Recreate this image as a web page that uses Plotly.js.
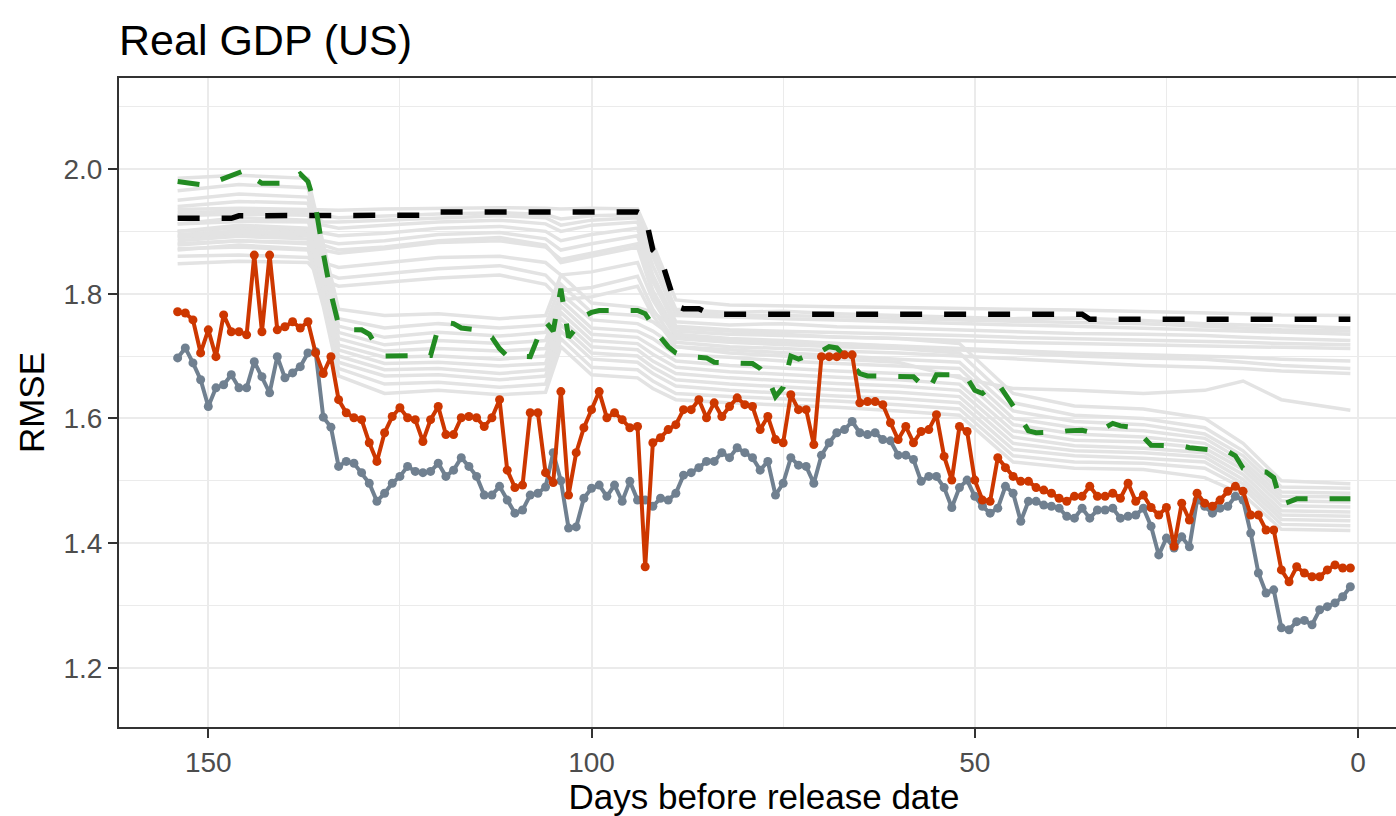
<!DOCTYPE html>
<html>
<head>
<meta charset="utf-8">
<script src="https://cdn.plot.ly/plotly-3.0.1.min.js"></script>
<style>
html,body{margin:0;padding:0;overflow:hidden;background:#fff;}
#chart{width:1420px;height:816px;}
</style>
</head>
<body>
<div id="chart"></div>
<script>
// Days before release date (x values of the two point series)
const days = [154,153,152,151,150,149,148,147,146,145,
144,143,142,141,140,139,138,137,136,135,
134,133,132,131,130,129,128,127,126,125,
124,123,122,121,120,119,118,117,116,115,
114,113,112,111,110,109,108,107,106,105,
104,103,102,101,100,99,98,97,96,95,
94,93,92,91,90,89,88,87,86,85,
84,83,82,81,80,79,78,77,76,75,
74,73,72,71,70,69,68,67,66,65,
64,63,62,61,60,59,58,57,56,55,
54,53,52,51,50,49,48,47,46,45,
44,43,42,41,40,39,38,37,36,35,
34,33,32,31,30,29,28,27,26,25,
24,23,22,21,20,19,18,17,16,15,
14,13,12,11,10,9,8,7,6,5,
4,3,2,1];

// Orange-red series (RMSE)
const redRmse = [1.771,1.769,1.758,1.705,1.742,1.699,1.766,1.739,1.739,1.734,
1.862,1.739,1.862,1.742,1.747,1.755,1.745,1.755,1.705,1.672,
1.699,1.630,1.609,1.601,1.598,1.561,1.531,1.577,1.603,1.617,
1.601,1.598,1.563,1.598,1.619,1.574,1.574,1.601,1.603,1.601,
1.587,1.601,1.630,1.517,1.489,1.493,1.609,1.609,1.513,1.497,
1.643,1.477,1.545,1.585,1.614,1.643,1.601,1.609,1.598,1.585,
1.587,1.362,1.561,1.569,1.582,1.590,1.614,1.614,1.630,1.601,
1.625,1.603,1.619,1.633,1.622,1.619,1.582,1.603,1.566,1.561,
1.638,1.614,1.614,1.558,1.699,1.699,1.699,1.702,1.702,1.625,
1.627,1.627,1.622,1.593,1.566,1.587,1.561,1.579,1.582,1.606,
1.539,1.501,1.587,1.579,1.501,1.469,1.467,1.537,1.521,1.507,
1.499,1.499,1.489,1.485,1.480,1.472,1.467,1.475,1.475,1.491,
1.475,1.475,1.480,1.472,1.496,1.467,1.477,1.457,1.445,1.457,
1.395,1.464,1.437,1.480,1.464,1.459,1.469,1.483,1.491,1.483,
1.445,1.445,1.421,1.421,1.357,1.338,1.362,1.352,1.346,1.346,
1.357,1.365,1.360,1.360];

// Slate-gray series (RMSE)
const slateRmse = [1.697,1.713,1.689,1.662,1.619,1.649,1.654,1.670,1.649,1.649,
1.691,1.667,1.641,1.699,1.665,1.673,1.683,1.705,1.707,1.602,
1.586,1.523,1.531,1.528,1.513,1.496,1.467,1.480,1.496,1.507,
1.523,1.515,1.513,1.515,1.528,1.507,1.517,1.537,1.523,1.507,
1.477,1.477,1.491,1.469,1.448,1.453,1.477,1.480,1.490,1.545,
1.500,1.424,1.426,1.472,1.488,1.493,1.475,1.493,1.467,1.499,
1.469,1.469,1.459,1.472,1.469,1.480,1.509,1.513,1.521,1.531,
1.531,1.545,1.537,1.553,1.545,1.537,1.517,1.531,1.477,1.496,
1.537,1.525,1.523,1.496,1.541,1.561,1.577,1.582,1.595,1.577,
1.574,1.577,1.566,1.564,1.541,1.541,1.534,1.499,1.507,1.507,
1.489,1.457,1.489,1.501,1.475,1.459,1.448,1.456,1.491,1.480,
1.435,1.467,1.467,1.461,1.459,1.456,1.443,1.440,1.456,1.440,
1.453,1.453,1.456,1.440,1.443,1.445,1.456,1.427,1.381,1.408,
1.392,1.410,1.394,1.469,1.459,1.448,1.456,1.459,1.475,1.469,
1.416,1.352,1.320,1.325,1.264,1.261,1.274,1.276,1.269,1.293,
1.298,1.304,1.314,1.330];

// Black dashed benchmark
const blackDays = [154,147,146,121,120,96,94,93,92,91,90,89,88,86,85,84,36,35,1];
const blackRmse = [1.921,1.921,1.925,1.926,1.931,1.932,1.931,1.925,1.870,1.858,1.822,1.780,1.776,1.776,1.770,1.767,1.767,1.759,1.759];

// Green dashed benchmark
const greenDays = [154,152,151,149,147,145,144,143,140,139,138,137,136,135,134,133,132,130,129,128,127,121,120,119,118,117,115,113,112,111,108,107,106,105,104,103,102,101,100,99,94,93,92,91,90,89,88,85,84,80,79,78,77,76,75,74,73,72,70,69,68,67,66,65,64,58,57,56,55,52,51,50,49,48,47,46,45,44,43,42,40,39,38,36,35,34,33,32,31,29,28,27,23,22,17,16,15,14,13,12,11,10,9,8,1];
const greenRmse = [1.980,1.977,1.975,1.980,1.990,1.999,1.985,1.977,1.977,1.985,1.992,1.980,1.940,1.865,1.800,1.750,1.742,1.742,1.735,1.715,1.700,1.701,1.745,1.754,1.752,1.745,1.742,1.730,1.712,1.700,1.699,1.730,1.755,1.740,1.808,1.730,1.745,1.764,1.770,1.773,1.773,1.768,1.748,1.730,1.715,1.705,1.700,1.697,1.690,1.689,1.688,1.680,1.665,1.635,1.650,1.700,1.695,1.700,1.708,1.715,1.713,1.700,1.685,1.672,1.668,1.667,1.655,1.645,1.670,1.670,1.665,1.645,1.640,1.650,1.657,1.640,1.620,1.600,1.580,1.577,1.577,1.578,1.580,1.581,1.578,1.577,1.585,1.592,1.588,1.585,1.570,1.557,1.556,1.553,1.547,1.540,1.520,1.515,1.515,1.514,1.505,1.462,1.466,1.471,1.471];

// Light-gray model lines (sampled at these days)
const grayDays = [154,146,137,135,133,127,120,112,106,104,100,94,92,89,82,75,68,60,52,45,37,28,20,15,10,1];
const grayA01 = [1.935,1.937,1.935,1.934,1.934,1.936,1.937,1.938,1.937,1.936,1.937,1.936,1.880,1.790,1.782,1.780,1.779,1.778,1.776,1.775,1.774,1.772,1.770,1.768,1.766,1.765];
const grayA02 = [1.925,1.928,1.926,1.925,1.922,1.925,1.928,1.930,1.927,1.920,1.925,1.927,1.860,1.775,1.770,1.772,1.768,1.765,1.762,1.760,1.761,1.757,1.752,1.750,1.748,1.745];
const grayA03 = [1.912,1.916,1.915,1.910,1.905,1.910,1.915,1.918,1.912,1.900,1.910,1.915,1.845,1.765,1.762,1.760,1.758,1.755,1.752,1.750,1.748,1.745,1.742,1.740,1.738,1.735];
const grayA04 = [1.900,1.905,1.902,1.898,1.893,1.897,1.905,1.908,1.900,1.885,1.895,1.905,1.830,1.755,1.750,1.752,1.747,1.745,1.742,1.738,1.736,1.735,1.733,1.730,1.728,1.725];
const grayA05 = [1.890,1.895,1.893,1.885,1.880,1.885,1.895,1.898,1.888,1.870,1.880,1.893,1.820,1.748,1.742,1.740,1.738,1.735,1.733,1.730,1.728,1.726,1.724,1.722,1.720,1.718];
const grayA06 = [1.880,1.885,1.882,1.870,1.865,1.872,1.882,1.885,1.875,1.855,1.865,1.880,1.805,1.740,1.735,1.733,1.730,1.728,1.725,1.722,1.720,1.718,1.716,1.715,1.713,1.712];
const grayA07 = [1.872,1.875,1.870,1.850,1.842,1.850,1.858,1.860,1.850,1.830,1.835,1.850,1.790,1.730,1.725,1.722,1.720,1.716,1.712,1.708,1.705,1.702,1.700,1.698,1.695,1.692];
const grayA08 = [1.860,1.862,1.858,1.835,1.825,1.832,1.840,1.845,1.830,1.805,1.810,1.828,1.775,1.722,1.715,1.712,1.708,1.705,1.700,1.695,1.690,1.685,1.682,1.680,1.676,1.672];
const grayA09 = [1.848,1.852,1.850,1.822,1.812,1.818,1.825,1.830,1.815,1.790,1.795,1.812,1.765,1.715,1.705,1.700,1.695,1.690,1.665,1.648,1.645,1.640,1.645,1.660,1.630,1.613];
const grayA10 = [1.895,1.900,1.898,1.878,1.870,1.875,1.885,1.890,1.878,1.850,1.860,1.875,1.800,1.735,1.728,1.725,1.720,1.715,1.710,1.705,1.700,1.697,1.695,1.690,1.685,1.680];
const grayA11 = [1.930,1.932,1.930,1.915,1.915,1.918,1.922,1.925,1.922,1.910,1.918,1.922,1.870,1.770,1.765,1.765,1.763,1.760,1.758,1.756,1.754,1.752,1.748,1.745,1.742,1.740];
const grayB01 = [1.985,1.990,1.985,1.880,1.775,1.765,1.768,1.760,1.765,1.830,1.785,1.778,1.770,1.745,1.740,1.735,1.730,1.728,1.720,1.640,1.620,1.615,1.600,1.560,1.500,1.495];
const grayB02 = [1.965,1.975,1.970,1.870,1.760,1.745,1.752,1.745,1.750,1.815,1.770,1.765,1.755,1.728,1.722,1.718,1.715,1.712,1.705,1.625,1.605,1.600,1.585,1.548,1.490,1.488];
const grayB03 = [1.950,1.960,1.955,1.860,1.748,1.730,1.738,1.732,1.738,1.800,1.758,1.752,1.740,1.715,1.710,1.705,1.700,1.695,1.690,1.612,1.595,1.590,1.575,1.540,1.482,1.480];
const grayB04 = [1.940,1.948,1.945,1.850,1.738,1.718,1.725,1.720,1.725,1.790,1.745,1.740,1.728,1.702,1.698,1.692,1.688,1.684,1.680,1.600,1.585,1.580,1.568,1.532,1.475,1.474];
const grayB05 = [1.925,1.935,1.930,1.840,1.728,1.708,1.712,1.708,1.712,1.780,1.735,1.730,1.715,1.692,1.685,1.680,1.676,1.672,1.668,1.590,1.575,1.570,1.560,1.525,1.468,1.466];
const grayB06 = [1.912,1.922,1.918,1.830,1.718,1.698,1.700,1.695,1.700,1.770,1.725,1.720,1.703,1.682,1.675,1.670,1.666,1.662,1.655,1.580,1.565,1.562,1.552,1.518,1.460,1.458];
const grayB07 = [1.900,1.910,1.905,1.820,1.710,1.688,1.690,1.684,1.688,1.760,1.715,1.710,1.692,1.672,1.665,1.660,1.656,1.652,1.645,1.570,1.556,1.552,1.545,1.510,1.452,1.450];
const grayB08 = [1.892,1.900,1.895,1.810,1.700,1.678,1.680,1.672,1.678,1.750,1.705,1.700,1.682,1.662,1.655,1.650,1.646,1.642,1.635,1.560,1.548,1.545,1.538,1.502,1.445,1.443];
const grayB09 = [1.885,1.892,1.888,1.800,1.690,1.668,1.670,1.662,1.668,1.740,1.695,1.690,1.672,1.652,1.645,1.640,1.636,1.632,1.625,1.550,1.540,1.536,1.530,1.495,1.438,1.436];
const grayB10 = [1.878,1.885,1.880,1.790,1.680,1.655,1.658,1.650,1.655,1.728,1.682,1.678,1.660,1.640,1.635,1.632,1.628,1.622,1.615,1.540,1.530,1.528,1.520,1.488,1.430,1.428];
const grayB11 = [1.870,1.878,1.872,1.780,1.668,1.640,1.645,1.638,1.642,1.715,1.670,1.665,1.648,1.630,1.625,1.622,1.618,1.612,1.605,1.530,1.520,1.518,1.505,1.478,1.422,1.420];
const grayLines = [grayA01,grayA02,grayA03,grayA04,grayA05,grayA06,grayA07,grayA08,grayA09,grayA10,grayA11,
                   grayB01,grayB02,grayB03,grayB04,grayB05,grayB06,grayB07,grayB08,grayB09,grayB10,grayB11];

// Axis ticks
const xTickVals = [150,100,50,0];
const xTickText = ['150','100','50','0'];
const xMinorVals = [125,75,25];
const yTickVals = [1.2,1.4,1.6,1.8,2.0];
const yTickText = ['1.2','1.4','1.6','1.8','2.0'];
const yMinorVals = [1.3,1.5,1.7,1.9,2.1];

const traces = [];
grayLines.forEach(function(vals){
  traces.push({x: grayDays, y: vals, type:'scatter', mode:'lines',
    line:{color:'#e3e3e3', width:3.5}, hoverinfo:'skip'});
});
traces.push({x: blackDays, y: blackRmse, type:'scatter', mode:'lines',
  line:{color:'#000000', width:5.5, dash:'22px,22px'}, hoverinfo:'skip'});
traces.push({x: greenDays, y: greenRmse, type:'scatter', mode:'lines',
  line:{color:'#228B22', width:5, dash:'22px,22px'}, hoverinfo:'skip'});
traces.push({x: days, y: slateRmse, type:'scatter', mode:'lines+markers',
  line:{color:'#708090', width:4}, marker:{color:'#708090', size:9}, hoverinfo:'skip'});
traces.push({x: days, y: redRmse, type:'scatter', mode:'lines+markers',
  line:{color:'#CD3700', width:4}, marker:{color:'#CD3700', size:9}, hoverinfo:'skip'});

const W = 1420, H = 816;
const layout = {
  width: W, height: H,
  margin: {l:119, r:11, t:78, b:89},
  paper_bgcolor:'#ffffff', plot_bgcolor:'#ffffff',
  showlegend:false,
  font:{family:'"Liberation Sans", Arial, sans-serif', color:'#000'},
  title:{text:'Real GDP (US)', font:{size:43, color:'#000'},
    xref:'container', x:119/W, xanchor:'left',
    yref:'container', y:1-40/H, yanchor:'middle'},
  xaxis:{
    range:[161.65,-6.65], autorange:false,
    tickmode:'array', tickvals:xTickVals, ticktext:xTickText,
    ticks:'outside', ticklen:9, tickwidth:2, tickcolor:'#333333',
    tickfont:{size:28, color:'#4d4d4d'},
    showgrid:true, gridcolor:'#ebebeb', gridwidth:2,
    minor:{tickmode:'array', tickvals:xMinorVals, showgrid:true, gridcolor:'#ebebeb', gridwidth:1, ticks:''},
    showline:true, linecolor:'#333333', linewidth:2, mirror:true, zeroline:false,
    title:{text:'Days before release date', font:{size:35, color:'#000'}, standoff:6}
  },
  yaxis:{
    range:[1.105,2.146], autorange:false,
    tickmode:'array', tickvals:yTickVals, ticktext:yTickText,
    ticks:'outside', ticklen:9, tickwidth:2, tickcolor:'#333333',
    tickfont:{size:28, color:'#4d4d4d'},
    showgrid:true, gridcolor:'#ebebeb', gridwidth:2,
    minor:{tickmode:'array', tickvals:yMinorVals, showgrid:true, gridcolor:'#ebebeb', gridwidth:1, ticks:''},
    showline:true, linecolor:'#333333', linewidth:2, mirror:true, zeroline:false,
    title:{text:'RMSE', font:{size:35, color:'#000'}, standoff:8}
  }
};

Plotly.newPlot('chart', traces, layout, {displayModeBar:false, staticPlot:true});
</script>
</body>
</html>
